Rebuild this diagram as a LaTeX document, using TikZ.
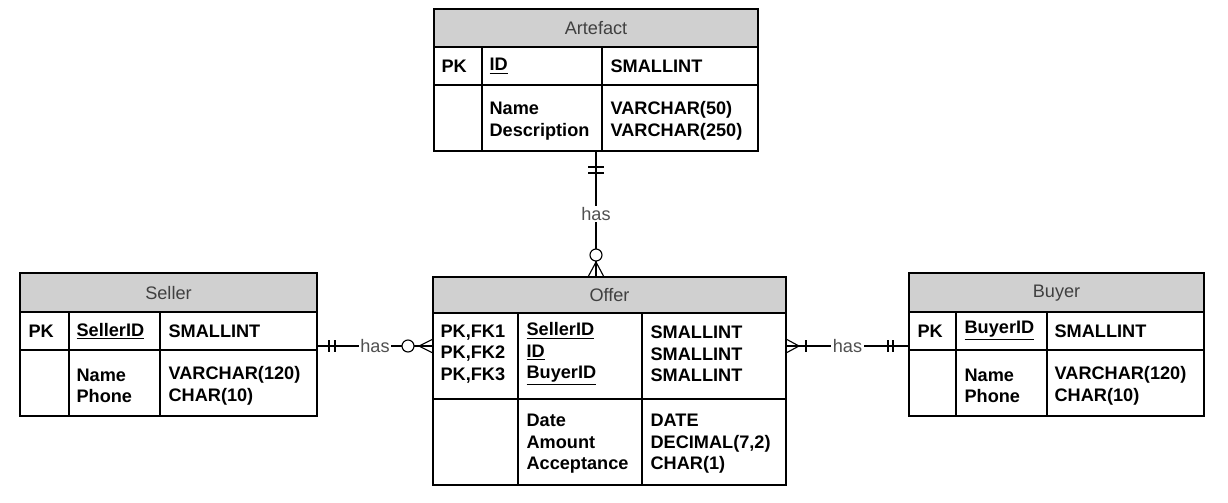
\documentclass[tikz,border=0pt]{standalone}
\usepackage{fontspec}
\setmainfont{Liberation Sans}
\usepackage{xcolor}
\usepackage{tikz}
\usetikzlibrary{calc}

\definecolor{hdrgray}{HTML}{D0D0D0}
\definecolor{ttlgray}{HTML}{404040}
\definecolor{hasgray}{HTML}{505050}
\newcommand{\tblfont}{\fontsize{12.9}{15.3}\selectfont}

\tikzset{
    hdr/.style={fill=hdrgray},
    ttl/.style={text=ttlgray, font=\tblfont},
    fld/.style={anchor=west, align=left, inner sep=0pt, font=\tblfont\bfseries},
    has/.style={fill=white, text=hasgray, inner sep=1pt, font=\tblfont},
}

\begin{document}
\begin{tikzpicture}[x=0.025cm, y=-0.025cm, line width=0.9pt]
    \useasboundingbox (0,0) rectangle (1228,502);

    % 1. Bảng Artefact
    \draw[hdr] (434,9) rectangle (758,47);
    \node[ttl] (artefact) at (596,28) {Artefact};
    \draw (434,47) rectangle (758,151);
    \draw (434,85) -- (758,85) (482,47) -- (482,151) (602,47) -- (602,151);
    \node[fld] (art-pk) at (441,66) {PK};
    \node[fld] (art-id) at (489,66) {\underline{ID}};
    \node[fld] (art-idt) at (610,66) {SMALLINT};
    \node[fld] (art-att) at (489,121) {Name\\Description};
    \node[fld] (art-attt) at (610,121) {VARCHAR(50)\\VARCHAR(250)};

    % 2. Bảng Seller
    \draw[hdr] (20,273) rectangle (317,312);
    \node[ttl] (seller) at (168.5,293) {Seller};
    \draw (20,312) rectangle (317,416);
    \draw (20,350) -- (317,350) (69,312) -- (69,416) (160,312) -- (160,416);
    \node[fld] (sel-pk) at (28,331) {PK};
    \node[fld] (sel-id) at (76,331) {\underline{SellerID}};
    \node[fld] (sel-idt) at (168,331) {SMALLINT};
    \node[fld] (sel-att) at (76,386) {Name\\Phone};
    \node[fld] (sel-attt) at (168,386) {VARCHAR(120)\\CHAR(10)};

    % 3. Bảng Offer
    \draw[hdr] (433,277) rectangle (786,313);
    \node[ttl] (offer) at (609.5,295) {Offer};
    \draw (433,313) rectangle (786,485);
    \draw (433,399) -- (786,399) (518,313) -- (518,485) (642,313) -- (642,485);
    \node[fld] (off-pk) at (440,354) {PK,FK1\\PK,FK2\\PK,FK3};
    \node[fld] (off-id) at (526,354) {\underline{SellerID}\\\underline{ID}\\\underline{BuyerID}};
    \node[fld] (off-idt) at (650,354) {SMALLINT\\SMALLINT\\SMALLINT};
    \node[fld] (off-att) at (526,444) {Date\\Amount\\Acceptance};
    \node[fld] (off-attt) at (650,444) {DATE\\DECIMAL(7,2)\\CHAR(1)};

    % 4. Bảng Buyer
    \draw[hdr] (909,273) rectangle (1204,312);
    \node[ttl] (buyer) at (1056.5,293) {Buyer};
    \draw (909,312) rectangle (1204,416);
    \draw (909,350) -- (1204,350) (956,312) -- (956,416) (1047,312) -- (1047,416);
    \node[fld] (buy-pk) at (917,331) {PK};
    \node[fld] (buy-id) at (964,331) {\underline{BuyerID}};
    \node[fld] (buy-idt) at (1054,331) {SMALLINT};
    \node[fld] (buy-att) at (964,386) {Name\\Phone};
    \node[fld] (buy-attt) at (1054,386) {VARCHAR(120)\\CHAR(10)};

    % 5. Các liên kết
    \coordinate (art-s) at (596,151);
    \coordinate (off-n) at (596,277);
    \coordinate (sel-e) at (317,346);
    \coordinate (off-w) at (433,346);
    \coordinate (off-e) at (786,346);
    \coordinate (buy-w) at (909,346);

    \begin{scope}[line width=0.8pt]
        % Artefact -- Offer
        \draw (art-s) -- node[has] (has-a) {has} (off-n);
        \draw ($(art-s)+(-8,16)$) -- ++(16,0) ($(art-s)+(-8,22)$) -- ++(16,0);
        \draw ($(off-n)+(-8,0)$) -- ($(off-n)+(0,-15)$) -- (off-n)
              ($(off-n)+(8,0)$) -- ($(off-n)+(0,-15)$);
        \draw[fill=white] ($(off-n)+(0,-22)$) circle[radius=0.15cm];

        % Seller -- Offer
        \draw (sel-e) -- node[has] (has-s) {has} (off-w);
        \draw ($(sel-e)+(12,-6)$) -- ++(0,12) ($(sel-e)+(18,-6)$) -- ++(0,12);
        \draw ($(off-w)+(0,-7)$) -- ($(off-w)+(-14,0)$) -- ($(off-w)+(0,7)$);
        \draw[fill=white] ($(off-w)+(-25,0)$) circle[radius=0.15cm];

        % Offer -- Buyer
        \draw (off-e) -- node[has] (has-b) {has} (buy-w);
        \draw ($(off-e)+(0,-7)$) -- ($(off-e)+(13,0)$) -- ($(off-e)+(0,7)$);
        \draw ($(off-e)+(20,-6)$) -- ++(0,12);
        \draw ($(buy-w)+(-21,-6)$) -- ++(0,12) ($(buy-w)+(-16,-6)$) -- ++(0,12);
    \end{scope}
\end{tikzpicture}
\end{document}
